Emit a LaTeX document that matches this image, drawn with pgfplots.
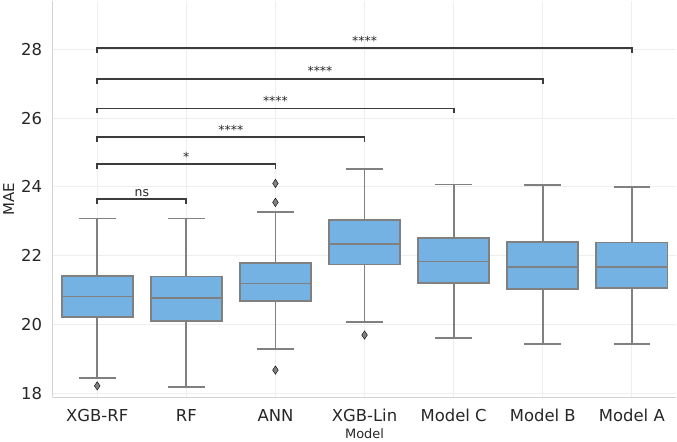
\documentclass[border=0pt]{standalone}
\usepackage{pgfplots}
\pgfplotsset{compat=1.18}
\usepgfplotslibrary{statistics}
\usepackage{fontspec}
\setmainfont{DejaVu Sans}

\definecolor{boxblue}{RGB}{116,178,228}
\definecolor{boxline}{RGB}{128,128,128}
\definecolor{brk}{RGB}{60,60,60}
\definecolor{txt}{RGB}{38,38,38}
\definecolor{gridc}{RGB}{238,238,238}
\definecolor{spine}{RGB}{210,210,210}

\pgfplotsset{
  sbox/.style={draw=boxline, line width=1.8bp, solid,
    boxplot/every box/.style={fill=boxblue},
    boxplot/every median/.style={draw=boxline, line width=1.8bp},
    boxplot/box extend=0.8, boxplot/whisker extend=0.41},
  brace/.style={brk, line width=1.7bp, no marks},
}
\tikzset{sig/.style={anchor=base, yshift=3bp, txt, font=\fontsize{12.5}{15}\selectfont}}

\begin{document}
\begin{tikzpicture}
\begin{axis}[
    width=624bp, height=397bp, scale only axis,
    xmin=-0.5, xmax=6.5,
    ymin=17.875, ymax=29.42,
    boxplot/draw direction=y,
    xtick={0,1,2,3,4,5,6},
    xticklabels={XGB-RF, RF, ANN, XGB-Lin, Model C, Model B, Model A},
    ytick={18,20,22,24,26,28},
    major tick length=0pt,
    axis x line*=bottom, axis y line*=left,
    axis line style={spine, line width=1.2bp, -},
    grid=major, major grid style={gridc, line width=1bp},
    /pgf/number format/assume math mode=true,
    tick label style={txt, font=\fontsize{16.5}{19}\selectfont},
    xticklabel style={anchor=base, yshift=-23.7bp},
    yticklabel style={anchor=east, inner sep=0pt, xshift=-10.4bp},
    xlabel={Model}, ylabel={MAE},
    xlabel style={at={(axis description cs:0.5,-0.1033)}, anchor=base, txt, font=\fontsize{13}{15}\selectfont},
    ylabel style={at={(axis description cs:-0.0617,0.5)}, anchor=base, txt, font=\fontsize{15}{18}\selectfont},
]
% boxes
\addplot[sbox, boxplot prepared={draw position=0, lower whisker=18.45, lower quartile=20.21, median=20.81, upper quartile=21.41, upper whisker=23.08}] coordinates {};
\addplot[sbox, boxplot prepared={draw position=1, lower whisker=18.18, lower quartile=20.10, median=20.76, upper quartile=21.39, upper whisker=23.08}] coordinates {};
\addplot[sbox, boxplot prepared={draw position=2, lower whisker=19.28, lower quartile=20.67, median=21.19, upper quartile=21.78, upper whisker=23.27}] coordinates {};
\addplot[sbox, boxplot prepared={draw position=3, lower whisker=20.06, lower quartile=21.74, median=22.33, upper quartile=23.04, upper whisker=24.51}] coordinates {};
\addplot[sbox, boxplot prepared={draw position=4, lower whisker=19.61, lower quartile=21.21, median=21.83, upper quartile=22.51, upper whisker=24.07}] coordinates {};
\addplot[sbox, boxplot prepared={draw position=5, lower whisker=19.42, lower quartile=21.04, median=21.66, upper quartile=22.40, upper whisker=24.06}] coordinates {};
\addplot[sbox, boxplot prepared={draw position=6, lower whisker=19.42, lower quartile=21.06, median=21.67, upper quartile=22.38, upper whisker=23.99}] coordinates {};
% outliers
\addplot[only marks, mark=diamond*, mark size=4.2bp,
  mark options={xscale=0.9, fill=boxline, draw=none}]
  coordinates {(0,18.21) (2,18.67) (2,23.55) (2,24.10) (3,19.69)};
% significance brackets
\addplot[brace] coordinates {(0,23.50) (0,23.64) (1,23.64) (1,23.50)};
\addplot[brace] coordinates {(0,24.52) (0,24.66) (2,24.66) (2,24.52)};
\addplot[brace] coordinates {(0,25.31) (0,25.45) (3,25.45) (3,25.31)};
\addplot[brace] coordinates {(0,26.14) (0,26.28) (4,26.28) (4,26.14)};
\addplot[brace] coordinates {(0,27.00) (0,27.14) (5,27.14) (5,27.00)};
\addplot[brace] coordinates {(0,27.90) (0,28.04) (6,28.04) (6,27.90)};
\node[sig] at (axis cs:0.5,23.64) {ns};
\node[sig] at (axis cs:1.0,24.66) {*};
\node[sig] at (axis cs:1.5,25.45) {****};
\node[sig] at (axis cs:2.0,26.28) {****};
\node[sig] at (axis cs:2.5,27.14) {****};
\node[sig] at (axis cs:3.0,28.04) {****};
\end{axis}
\end{tikzpicture}
\end{document}
